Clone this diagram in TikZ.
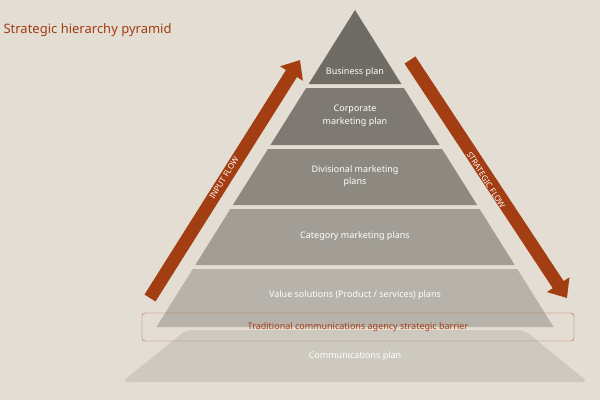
\documentclass[tikz,border=0pt]{standalone}
\usepackage{fontspec}
\setmainfont{Noto Sans}
\usetikzlibrary{arrows.meta}
\definecolor{bg}{HTML}{E3DDD3}
\definecolor{brn}{HTML}{A33D12}
\definecolor{l1}{HTML}{6F6B65}
\definecolor{l2}{HTML}{7E7A73}
\definecolor{l3}{HTML}{8D8981}
\definecolor{l4}{HTML}{A29E96}
\definecolor{l5}{HTML}{B7B3AA}
\definecolor{l6}{HTML}{CEC9BF}
\tikzset{lab/.style={text=white,font=\bfseries\fontsize{9}{12.5}\selectfont,align=center},
labn/.style={text=white,font=\fontsize{9}{12}\selectfont,align=center},
flow/.style={brn,line width=13pt,line cap=butt,-{Triangle[width=26pt,length=16pt]}},
flowtxt/.style={text=white,font=\fontsize{8}{9}\selectfont}}
\begin{document}
\begin{tikzpicture}[x=1pt,y=-1pt]
\fill[bg] (0,0) rectangle (600,400);
\useasboundingbox (0,0) rectangle (600,400);
\def\hw#1{(0.6263*((#1)-10))}
\newcommand\layer[4]{\fill[#3] ({355-\hw{#1}},#1) -- ({355+\hw{#1}},#1) -- ({355+\hw{#2}},#2) -- ({355-\hw{#2}},#2) -- cycle;}
\fill[l6,rounded corners=6pt] (186,330) -- (524,330) -- (588,382) -- (122,382) -- cycle;
\layer{269}{327}{l5}{}
\layer{209}{265}{l4}{}
\layer{149}{205}{l3}{}
\layer{88}{145}{l2}{}
\fill[l1] (355,10) -- ({355+\hw{84}},84) -- ({355-\hw{84}},84) -- cycle;
\node[lab] (b1) at (355,72) {Business plan};
\node[lab] (b2) at (355,116) {Corporate\\marketing plan};
\node[lab] (b3) at (355,176) {Divisional marketing\\plans};
\node[labn] (b4) at (355,236) {Category marketing plans};
\node[labn] (b5) at (355,295) {Value solutions (Product / services) plans};
\node[labn] (b6) at (355,356) {Communications plan};
\node[draw=brn!80,rounded corners=3pt,minimum width=432pt,minimum height=28pt,text=brn,font=\fontsize{9}{11}\selectfont] (bar) at (358,327) {Traditional communications agency strategic barrier};
\coordinate (ls) at (150,298); \coordinate (le) at (300,60);
\coordinate (rs) at (410,60); \coordinate (re) at (567,298);
\draw[flow] (ls) -- (le);
\draw[flow] (rs) -- (re);
\node[flowtxt,rotate=58] (tin) at (224,178) {INPUT FLOW};
\node[flowtxt,rotate=-58] (tst) at (486,180) {STRATEGIC FLOW};
\node[anchor=west,text=brn,font=\fontsize{13}{15}\selectfont] (title) at (0,30) {Strategic hierarchy pyramid};
\end{tikzpicture}
\end{document}
